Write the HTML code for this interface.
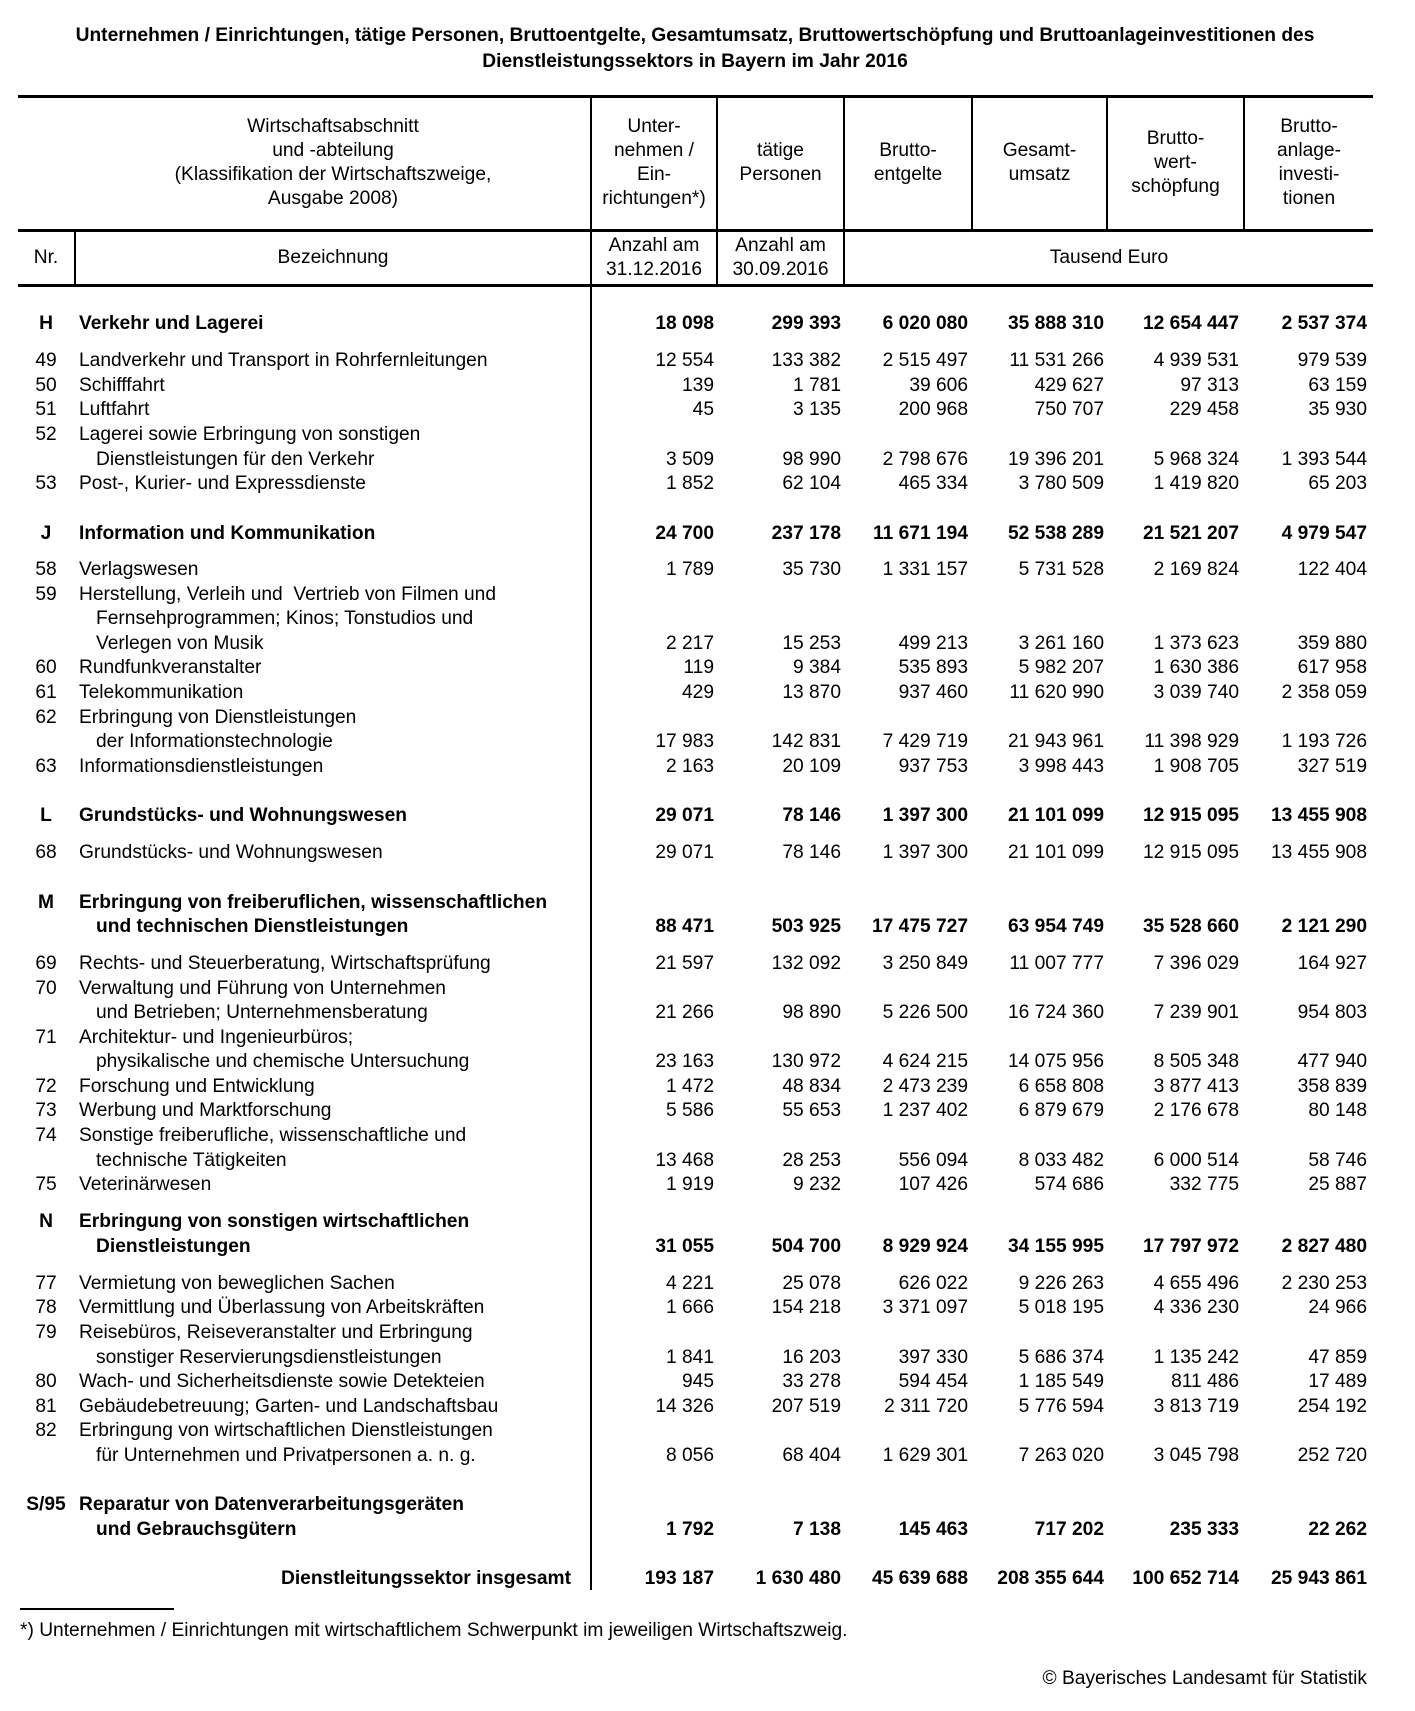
<!DOCTYPE html>
<html><head><meta charset="utf-8"><style>
body{margin:0;background:#fff}
#p{position:relative;width:1415px;height:1711px;overflow:hidden;font-family:"Liberation Sans",Arial,sans-serif;font-size:19.2px;color:#000}
.a{position:absolute;white-space:nowrap;line-height:22px}
.row{position:absolute;left:0;width:1415px;height:22px}
.row span{position:absolute;top:3px;white-space:nowrap;line-height:22px}
.b span{font-weight:bold}
.nr{left:16px;width:60px;text-align:center}
.t{left:79px}.ti{left:96px}
.c1{right:701px}.c2{right:574px}.c3{right:447px}.c4{right:311px}.c5{right:176px}.c6{right:48px}
.h{position:absolute;background:#000}
.hc{position:absolute;text-align:center;line-height:24px;font-size:19.2px}
</style></head><body><div id="p">
<div class="a" style="left:0;width:1390px;text-align:center;top:25px;font-weight:bold;font-size:19.2px">Unternehmen / Einrichtungen, tätige Personen, Bruttoentgelte, Gesamtumsatz, Bruttowertschöpfung und Bruttoanlageinvestitionen des</div>
<div class="a" style="left:0;width:1390px;text-align:center;top:51px;font-weight:bold;font-size:19.2px">Dienstleistungssektors in Bayern im Jahr 2016</div>

<div class="h" style="left:18px;width:1355px;top:95px;height:3px"></div>
<div class="h" style="left:18px;width:1355px;top:229px;height:3px"></div>
<div class="h" style="left:18px;width:1355px;top:284px;height:3px"></div>
<div class="h" style="left:590px;width:2px;top:96px;height:1494px"></div>
<div class="h" style="left:716px;width:2px;top:96px;height:189px"></div>
<div class="h" style="left:843px;width:2px;top:96px;height:189px"></div>
<div class="h" style="left:971px;width:2px;top:96px;height:135px"></div>
<div class="h" style="left:1106px;width:2px;top:96px;height:135px"></div>
<div class="h" style="left:1243px;width:2px;top:96px;height:135px"></div>
<div class="h" style="left:74px;width:2px;top:230px;height:55px"></div>

<div class="hc" style="left:76px;width:514px;top:115px">Wirtschaftsabschnitt<br>und -abteilung<br>(Klassifikation der Wirtschaftszweige,<br>Ausgabe 2008)</div>
<div class="hc" style="left:592px;width:124px;top:115px">Unter-<br>nehmen /<br>Ein-<br>richtungen*)</div>
<div class="hc" style="left:718px;width:125px;top:139px">tätige<br>Personen</div>
<div class="hc" style="left:845px;width:126px;top:139px">Brutto-<br>entgelte</div>
<div class="hc" style="left:973px;width:133px;top:139px">Gesamt-<br>umsatz</div>
<div class="hc" style="left:1108px;width:135px;top:127px">Brutto-<br>wert-<br>schöpfung</div>
<div class="hc" style="left:1245px;width:128px;top:115px">Brutto-<br>anlage-<br>investi-<br>tionen</div>
<div class="hc" style="left:18px;width:56px;top:246px">Nr.</div>
<div class="hc" style="left:76px;width:514px;top:246px">Bezeichnung</div>
<div class="hc" style="left:592px;width:124px;top:234px">Anzahl am<br>31.12.2016</div>
<div class="hc" style="left:718px;width:125px;top:234px">Anzahl am<br>30.09.2016</div>
<div class="hc" style="left:845px;width:528px;top:246px">Tausend Euro</div>

<div class="row b" style="top:310px"><span class="nr">H</span><span class="t">Verkehr und Lagerei</span><span class="c1">18 098</span><span class="c2">299 393</span><span class="c3">6 020 080</span><span class="c4">35 888 310</span><span class="c5">12 654 447</span><span class="c6">2 537 374</span></div>
<div class="row" style="top:347px"><span class="nr">49</span><span class="t">Landverkehr und Transport in Rohrfernleitungen</span><span class="c1">12 554</span><span class="c2">133 382</span><span class="c3">2 515 497</span><span class="c4">11 531 266</span><span class="c5">4 939 531</span><span class="c6">979 539</span></div>
<div class="row" style="top:372px"><span class="nr">50</span><span class="t">Schifffahrt</span><span class="c1">139</span><span class="c2">1 781</span><span class="c3">39 606</span><span class="c4">429 627</span><span class="c5">97 313</span><span class="c6">63 159</span></div>
<div class="row" style="top:396px"><span class="nr">51</span><span class="t">Luftfahrt</span><span class="c1">45</span><span class="c2">3 135</span><span class="c3">200 968</span><span class="c4">750 707</span><span class="c5">229 458</span><span class="c6">35 930</span></div>
<div class="row" style="top:421px"><span class="nr">52</span><span class="t">Lagerei sowie Erbringung von sonstigen</span></div>
<div class="row" style="top:446px"><span class="ti">Dienstleistungen für den Verkehr</span><span class="c1">3 509</span><span class="c2">98 990</span><span class="c3">2 798 676</span><span class="c4">19 396 201</span><span class="c5">5 968 324</span><span class="c6">1 393 544</span></div>
<div class="row" style="top:470px"><span class="nr">53</span><span class="t">Post-, Kurier- und Expressdienste</span><span class="c1">1 852</span><span class="c2">62 104</span><span class="c3">465 334</span><span class="c4">3 780 509</span><span class="c5">1 419 820</span><span class="c6">65 203</span></div>

<div class="row b" style="top:520px"><span class="nr">J</span><span class="t">Information und Kommunikation</span><span class="c1">24 700</span><span class="c2">237 178</span><span class="c3">11 671 194</span><span class="c4">52 538 289</span><span class="c5">21 521 207</span><span class="c6">4 979 547</span></div>
<div class="row" style="top:556px"><span class="nr">58</span><span class="t">Verlagswesen</span><span class="c1">1 789</span><span class="c2">35 730</span><span class="c3">1 331 157</span><span class="c4">5 731 528</span><span class="c5">2 169 824</span><span class="c6">122 404</span></div>
<div class="row" style="top:581px"><span class="nr">59</span><span class="t">Herstellung, Verleih und&nbsp; Vertrieb von Filmen und</span></div>
<div class="row" style="top:605px"><span class="ti">Fernsehprogrammen; Kinos; Tonstudios und</span></div>
<div class="row" style="top:630px"><span class="ti">Verlegen von Musik</span><span class="c1">2 217</span><span class="c2">15 253</span><span class="c3">499 213</span><span class="c4">3 261 160</span><span class="c5">1 373 623</span><span class="c6">359 880</span></div>
<div class="row" style="top:654px"><span class="nr">60</span><span class="t">Rundfunkveranstalter</span><span class="c1">119</span><span class="c2">9 384</span><span class="c3">535 893</span><span class="c4">5 982 207</span><span class="c5">1 630 386</span><span class="c6">617 958</span></div>
<div class="row" style="top:679px"><span class="nr">61</span><span class="t">Telekommunikation</span><span class="c1">429</span><span class="c2">13 870</span><span class="c3">937 460</span><span class="c4">11 620 990</span><span class="c5">3 039 740</span><span class="c6">2 358 059</span></div>
<div class="row" style="top:704px"><span class="nr">62</span><span class="t">Erbringung von Dienstleistungen</span></div>
<div class="row" style="top:728px"><span class="ti">der Informationstechnologie</span><span class="c1">17 983</span><span class="c2">142 831</span><span class="c3">7 429 719</span><span class="c4">21 943 961</span><span class="c5">11 398 929</span><span class="c6">1 193 726</span></div>
<div class="row" style="top:753px"><span class="nr">63</span><span class="t">Informationsdienstleistungen</span><span class="c1">2 163</span><span class="c2">20 109</span><span class="c3">937 753</span><span class="c4">3 998 443</span><span class="c5">1 908 705</span><span class="c6">327 519</span></div>

<div class="row b" style="top:802px"><span class="nr">L</span><span class="t">Grundstücks- und Wohnungswesen</span><span class="c1">29 071</span><span class="c2">78 146</span><span class="c3">1 397 300</span><span class="c4">21 101 099</span><span class="c5">12 915 095</span><span class="c6">13 455 908</span></div>
<div class="row" style="top:839px"><span class="nr">68</span><span class="t">Grundstücks- und Wohnungswesen</span><span class="c1">29 071</span><span class="c2">78 146</span><span class="c3">1 397 300</span><span class="c4">21 101 099</span><span class="c5">12 915 095</span><span class="c6">13 455 908</span></div>

<div class="row b" style="top:889px"><span class="nr">M</span><span class="t">Erbringung von freiberuflichen, wissenschaftlichen</span></div>
<div class="row b" style="top:913px"><span class="ti">und technischen Dienstleistungen</span><span class="c1">88 471</span><span class="c2">503 925</span><span class="c3">17 475 727</span><span class="c4">63 954 749</span><span class="c5">35 528 660</span><span class="c6">2 121 290</span></div>
<div class="row" style="top:950px"><span class="nr">69</span><span class="t">Rechts- und Steuerberatung, Wirtschaftsprüfung</span><span class="c1">21 597</span><span class="c2">132 092</span><span class="c3">3 250 849</span><span class="c4">11 007 777</span><span class="c5">7 396 029</span><span class="c6">164 927</span></div>
<div class="row" style="top:975px"><span class="nr">70</span><span class="t">Verwaltung und Führung von Unternehmen</span></div>
<div class="row" style="top:999px"><span class="ti">und Betrieben; Unternehmensberatung</span><span class="c1">21 266</span><span class="c2">98 890</span><span class="c3">5 226 500</span><span class="c4">16 724 360</span><span class="c5">7 239 901</span><span class="c6">954 803</span></div>
<div class="row" style="top:1024px"><span class="nr">71</span><span class="t">Architektur- und Ingenieurbüros;</span></div>
<div class="row" style="top:1048px"><span class="ti">physikalische und chemische Untersuchung</span><span class="c1">23 163</span><span class="c2">130 972</span><span class="c3">4 624 215</span><span class="c4">14 075 956</span><span class="c5">8 505 348</span><span class="c6">477 940</span></div>
<div class="row" style="top:1073px"><span class="nr">72</span><span class="t">Forschung und Entwicklung</span><span class="c1">1 472</span><span class="c2">48 834</span><span class="c3">2 473 239</span><span class="c4">6 658 808</span><span class="c5">3 877 413</span><span class="c6">358 839</span></div>
<div class="row" style="top:1097px"><span class="nr">73</span><span class="t">Werbung und Marktforschung</span><span class="c1">5 586</span><span class="c2">55 653</span><span class="c3">1 237 402</span><span class="c4">6 879 679</span><span class="c5">2 176 678</span><span class="c6">80 148</span></div>
<div class="row" style="top:1122px"><span class="nr">74</span><span class="t">Sonstige freiberufliche, wissenschaftliche und</span></div>
<div class="row" style="top:1147px"><span class="ti">technische Tätigkeiten</span><span class="c1">13 468</span><span class="c2">28 253</span><span class="c3">556 094</span><span class="c4">8 033 482</span><span class="c5">6 000 514</span><span class="c6">58 746</span></div>
<div class="row" style="top:1171px"><span class="nr">75</span><span class="t">Veterinärwesen</span><span class="c1">1 919</span><span class="c2">9 232</span><span class="c3">107 426</span><span class="c4">574 686</span><span class="c5">332 775</span><span class="c6">25 887</span></div>

<div class="row b" style="top:1208px"><span class="nr">N</span><span class="t">Erbringung von sonstigen wirtschaftlichen</span></div>
<div class="row b" style="top:1233px"><span class="ti">Dienstleistungen</span><span class="c1">31 055</span><span class="c2">504 700</span><span class="c3">8 929 924</span><span class="c4">34 155 995</span><span class="c5">17 797 972</span><span class="c6">2 827 480</span></div>
<div class="row" style="top:1270px"><span class="nr">77</span><span class="t">Vermietung von beweglichen Sachen</span><span class="c1">4 221</span><span class="c2">25 078</span><span class="c3">626 022</span><span class="c4">9 226 263</span><span class="c5">4 655 496</span><span class="c6">2 230 253</span></div>
<div class="row" style="top:1294px"><span class="nr">78</span><span class="t">Vermittlung und Überlassung von Arbeitskräften</span><span class="c1">1 666</span><span class="c2">154 218</span><span class="c3">3 371 097</span><span class="c4">5 018 195</span><span class="c5">4 336 230</span><span class="c6">24 966</span></div>
<div class="row" style="top:1319px"><span class="nr">79</span><span class="t">Reisebüros, Reiseveranstalter und Erbringung</span></div>
<div class="row" style="top:1344px"><span class="ti">sonstiger Reservierungsdienstleistungen</span><span class="c1">1 841</span><span class="c2">16 203</span><span class="c3">397 330</span><span class="c4">5 686 374</span><span class="c5">1 135 242</span><span class="c6">47 859</span></div>
<div class="row" style="top:1368px"><span class="nr">80</span><span class="t">Wach- und Sicherheitsdienste sowie Detekteien</span><span class="c1">945</span><span class="c2">33 278</span><span class="c3">594 454</span><span class="c4">1 185 549</span><span class="c5">811 486</span><span class="c6">17 489</span></div>
<div class="row" style="top:1393px"><span class="nr">81</span><span class="t">Gebäudebetreuung; Garten- und Landschaftsbau</span><span class="c1">14 326</span><span class="c2">207 519</span><span class="c3">2 311 720</span><span class="c4">5 776 594</span><span class="c5">3 813 719</span><span class="c6">254 192</span></div>
<div class="row" style="top:1417px"><span class="nr">82</span><span class="t">Erbringung von wirtschaftlichen Dienstleistungen</span></div>
<div class="row" style="top:1442px"><span class="ti">für Unternehmen und Privatpersonen a. n. g.</span><span class="c1">8 056</span><span class="c2">68 404</span><span class="c3">1 629 301</span><span class="c4">7 263 020</span><span class="c5">3 045 798</span><span class="c6">252 720</span></div>

<div class="row b" style="top:1491px"><span class="nr">S/95</span><span class="t">Reparatur von Datenverarbeitungsgeräten</span></div>
<div class="row b" style="top:1516px"><span class="ti">und Gebrauchsgütern</span><span class="c1">1 792</span><span class="c2">7 138</span><span class="c3">145 463</span><span class="c4">717 202</span><span class="c5">235 333</span><span class="c6">22 262</span></div>
<div class="row b" style="top:1565px"><span style="right:844px">Dienstleitungssektor insgesamt</span><span class="c1">193 187</span><span class="c2">1 630 480</span><span class="c3">45 639 688</span><span class="c4">208 355 644</span><span class="c5">100 652 714</span><span class="c6">25 943 861</span></div>

<div class="h" style="left:20px;width:154px;top:1608px;height:2px"></div>
<div class="a" style="left:20px;top:1620px;font-size:19.2px">*) Unternehmen / Einrichtungen mit wirtschaftlichem Schwerpunkt im jeweiligen Wirtschaftszweig.</div>
<div class="a" style="right:48px;top:1668px;font-size:19.2px">© Bayerisches Landesamt für Statistik</div>
</div></body></html>
